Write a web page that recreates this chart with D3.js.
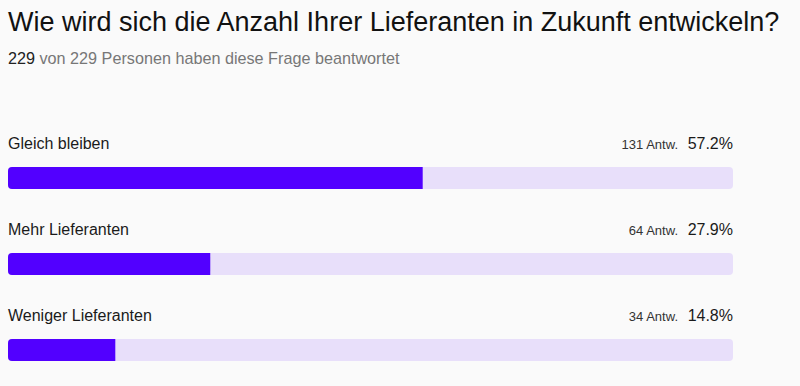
<!DOCTYPE html>
<html>
<head>
<meta charset="utf-8">
<script src="https://cdn.jsdelivr.net/npm/d3@7"></script>
<style>
  body { margin: 0; background: #fafafa; }
  svg { display: block; font-family: "Liberation Sans", Arial, sans-serif; }
</style>
</head>
<body>
<div id="chart"></div>
<script>
var title = "Wie wird sich die Anzahl Ihrer Lieferanten in Zukunft entwickeln?";
var answered = 229;
var total = 229;
var categories = ["Gleich bleiben", "Mehr Lieferanten", "Weniger Lieferanten"];
var counts = [131, 64, 34];
var percents = [57.2, 27.9, 14.8];

var width = 800, height = 386;
var margin = {left: 8, right: 67, top: 128};

var svg = d3.select("#chart").append("svg")
  .attr("width", width)
  .attr("height", height);

svg.append("rect").attr("width", width).attr("height", height).attr("fill", "#fafafa");

svg.append("text")
  .attr("x", 8).attr("y", 31)
  .attr("font-size", 27)
  .attr("fill", "#111")
  .text(title);

var sub = svg.append("text")
  .attr("x", 8).attr("y", 64)
  .attr("font-size", 16.2)
  .attr("fill", "#777");
sub.append("tspan").attr("fill", "#222").text(answered);
sub.append("tspan").text(" von " + total + " Personen haben diese Frage beantwortet");

var x = d3.scaleLinear().domain([0, 100]).range([margin.left, width - margin.right]);
var y = d3.scaleBand().domain(categories).range([margin.top, margin.top + 86 * categories.length]);

var rows = svg.selectAll("g.row")
  .data(categories)
  .enter().append("g")
  .attr("class", "row")
  .attr("transform", function(d) { return "translate(0," + y(d) + ")"; });

rows.append("text")
  .attr("x", margin.left).attr("y", 20.5)
  .attr("font-size", 16)
  .attr("fill", "#1a1a1a")
  .text(function(d) { return d; });

rows.append("text")
  .attr("x", x(100)).attr("y", 20.5)
  .attr("text-anchor", "end")
  .attr("font-size", 16)
  .attr("fill", "#1a1a1a")
  .text(function(d, i) { return percents[i].toFixed(1) + "%"; });

rows.append("text")
  .attr("x", x(100) - 55).attr("y", 20.5)
  .attr("text-anchor", "end")
  .attr("font-size", 13)
  .attr("fill", "#333")
  .text(function(d, i) { return counts[i] + " Antw."; });

rows.append("rect")
  .attr("x", x(0)).attr("y", 39)
  .attr("width", x(100) - x(0))
  .attr("height", 22)
  .attr("rx", 4)
  .attr("fill", "#e8dffa");

rows.append("path")
  .attr("fill", "#5200ff")
  .attr("d", function(d, i) {
    var x0 = x(0), x1 = x(percents[i]), y0 = 39, h = 22, r = 4;
    return "M" + (x0 + r) + "," + y0 + "H" + x1 + "V" + (y0 + h) + "H" + (x0 + r) +
      "Q" + x0 + "," + (y0 + h) + " " + x0 + "," + (y0 + h - r) + "V" + (y0 + r) +
      "Q" + x0 + "," + y0 + " " + (x0 + r) + "," + y0 + "Z";
  });
</script>
</body>
</html>
